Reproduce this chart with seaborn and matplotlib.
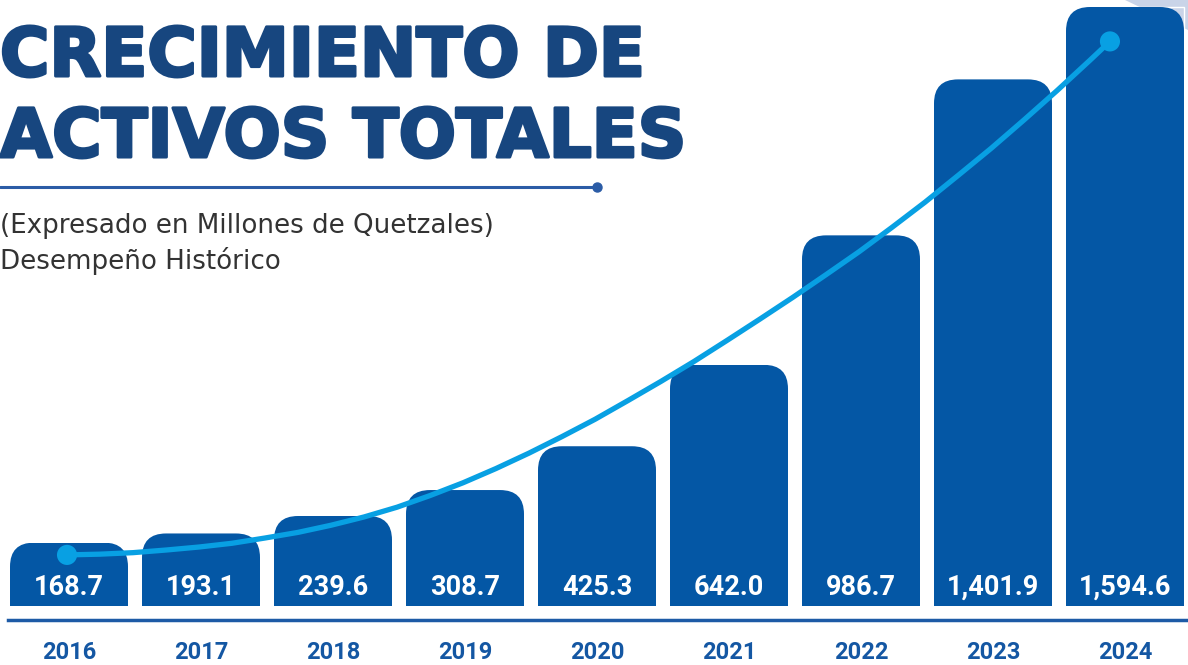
import matplotlib
matplotlib.use('Agg')
import matplotlib.pyplot as plt
from matplotlib.patches import FancyBboxPatch, Polygon
from matplotlib.lines import Line2D
import matplotlib.patheffects as pe
import seaborn as sns
import pandas as pd

# data
years = [2016, 2017, 2018, 2019, 2020, 2021, 2022, 2023, 2024]
activos = [168.7, 193.1, 239.6, 308.7, 425.3, 642.0, 986.7, 1401.9, 1594.6]
year_labels = [str(y) for y in years]

# trend curve, every quarter year
trend_x = [2015.985, 2016.235, 2016.485, 2016.735, 2016.985, 2017.235, 2017.485,
           2017.735, 2017.985, 2018.235, 2018.485, 2018.735, 2018.985, 2019.235,
           2019.485, 2019.735, 2019.985, 2020.235, 2020.485, 2020.735, 2020.985,
           2021.235, 2021.485, 2021.735, 2021.985, 2022.235, 2022.485, 2022.735,
           2022.985, 2023.235, 2023.485, 2023.735, 2023.886]
trend_y = [136, 138, 142, 149, 157, 167, 181, 196, 215, 237, 263, 294, 328, 366,
           407, 451, 497, 547, 598, 651, 707, 764, 822, 882, 943, 1008, 1075,
           1146, 1218, 1294, 1372, 1453, 1503]

title_lines = ['CRECIMIENTO DE', 'ACTIVOS TOTALES']
subtitle_lines = ['(Expresado en Millones de Quetzales)', 'Desempeño Histórico']

BAR = '#0457a5'
LINE = '#08a0e3'
TITLE = '#17467f'
AXIS = '#1d5aa6'
SUB = '#333333'

W, H = 1188, 665
sns.set_theme(style='white')
plt.rcParams['font.family'] = ['DejaVu Sans']

fig = plt.figure(figsize=(W / 100, H / 100), dpi=100)
fig.patch.set_facecolor('white')

# light decoration in the top right corner
fig.add_artist(Polygon([(1125 / W, 1), (1, 1), (1, 1 - 30 / H)], closed=True,
                       transform=fig.transFigure, fc='#c9d4e8', ec='none', zorder=-1))

ax = fig.add_axes([0, 45 / H, 1, 620 / H])
ax.patch.set_alpha(0)

k = 1594.6 / 599  # value units per pixel
df = pd.DataFrame({'year': years, 'activos': activos})
sns.barplot(data=df, x='year', y='activos', native_scale=True, color=BAR,
            saturation=1, width=0.894, errorbar=None, ax=ax, zorder=2)

ax.set_xlim(2016 - 69 / 132, 2016 + (W - 69) / 132)
ax.set_ylim(-14 * k, 606 * k)

# rounded tops
r = 24 / 132
for p in list(ax.patches):
    x0, w, h = p.get_x(), p.get_width(), p.get_height()
    fb = FancyBboxPatch((x0, -120), w, h + 120,
                        boxstyle=f'round,pad=0,rounding_size={r}',
                        mutation_aspect=132 * k, fc=BAR, ec='none', zorder=2)
    ax.add_patch(fb)
    fb.set_clip_path(p)
    p.set_facecolor('none')

sns.lineplot(x=trend_x, y=trend_y, ax=ax, color=LINE, linewidth=3.8, sort=False,
             zorder=3, solid_capstyle='round', solid_joinstyle='round')
sns.scatterplot(x=[trend_x[0], trend_x[-1]], y=[trend_y[0], trend_y[-1]], ax=ax,
                color=LINE, s=210, edgecolor='none', zorder=4)

for yr, v in zip(years, activos):
    ax.annotate(f'{v:,.1f}', xy=(yr, 0), xytext=(0, 8), textcoords='offset points',
                ha='center', va='baseline', color='white', fontsize=19.5,
                fontweight='bold', family='Roboto', zorder=5)

ax.set_xticks(years)
ax.set_xticklabels(year_labels, fontsize=17, fontweight='bold', family='Roboto',
                   color='#1457a3')
ax.tick_params(axis='x', length=0, pad=15)
ax.set_yticks([])
ax.set_xlabel('')
ax.set_ylabel('')
for s in ['top', 'left', 'right']:
    ax.spines[s].set_visible(False)
ax.spines['bottom'].set_linewidth(2.5)
ax.spines['bottom'].set_color(AXIS)
ax.spines['bottom'].set_bounds(2016 - 61 / 132, 2016 + (W - 69) / 132)

# title block
stroke = [pe.withStroke(linewidth=2.2, foreground=TITLE)]
fig.text(0.0, 1 - 76 / H, title_lines[0], fontsize=48.5, fontweight='bold',
         color=TITLE, va='baseline', path_effects=stroke)
fig.text(0.0, 1 - 157 / H, title_lines[1], fontsize=48.5, fontweight='bold',
         color=TITLE, va='baseline', path_effects=stroke)
fig.add_artist(Line2D([0, 597 / W], [1 - 187 / H] * 2, transform=fig.transFigure,
                      color='#2b5ca6', linewidth=2.2))
fig.add_artist(Line2D([597 / W], [1 - 187 / H], transform=fig.transFigure,
                      color='#2b5ca6', marker='o', markersize=6.5))
fig.text(0.0, 1 - 233 / H, subtitle_lines[0], fontsize=18.8, color=SUB, va='baseline')
fig.text(0.0, 1 - 269 / H, subtitle_lines[1], fontsize=18.8, color=SUB, va='baseline')

fig.savefig('out.png', dpi=100)
